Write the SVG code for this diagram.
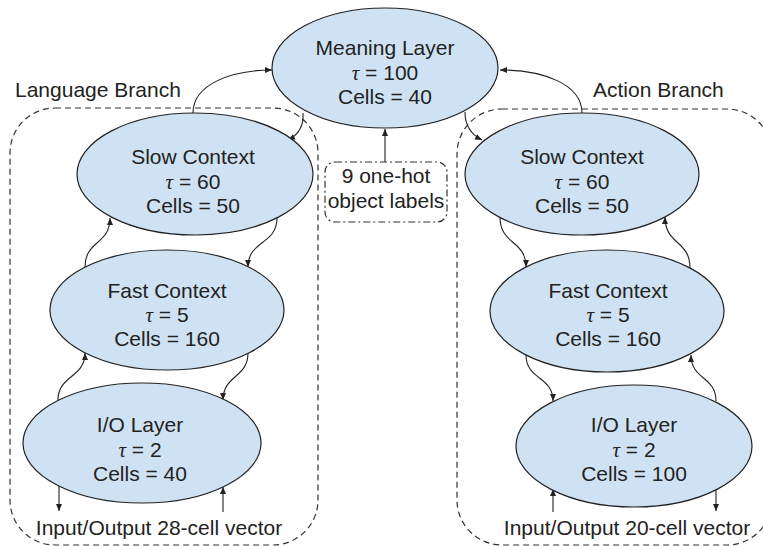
<svg xmlns="http://www.w3.org/2000/svg" width="763" height="546" viewBox="0 0 763 546">
<style>
.node{fill:#cfe2f3;stroke:#222;stroke-width:1.2}
.t{font-family:"Liberation Sans",Arial,sans-serif;font-size:21px;fill:#222;text-anchor:middle}
.lbl{font-family:"Liberation Sans",Arial,sans-serif;font-size:21px;fill:#222}
.tau{font-family:"Liberation Serif","Times New Roman",serif;font-style:italic}
.c{fill:none;stroke:#222;stroke-width:1.1}
.grp{fill:none;stroke:#333;stroke-width:1.2;stroke-dasharray:6 4}
.dd{fill:none;stroke:#333;stroke-width:1.2;stroke-dasharray:7 3 2 3}
</style>
<defs>
<marker id="ah" markerUnits="userSpaceOnUse" markerWidth="10" markerHeight="10" refX="7" refY="3" orient="auto">
<path d="M0,0 L7,3 L0,6 z" fill="#222"/>
</marker>
</defs>
<rect width="763" height="546" fill="#fff"/>

<g id="language-branch">
<rect class="grp" x="10" y="108" width="308" height="437" rx="45" ry="45"/>
<text class="lbl" x="15" y="97">Language Branch</text>
</g>
<g id="action-branch">
<rect class="grp" x="457" y="109" width="315" height="436" rx="45" ry="45"/>
<text class="lbl" x="593" y="97">Action Branch</text>
</g>

<g id="connectors">
<path class="c" d="M193,113 C193,84 232,70 272,70" marker-end="url(#ah)"/>
<path class="c" d="M303,113 C304,127 298,135 288,140" marker-end="url(#ah)"/>
<path class="c" d="M582,113 C582,84 543,70 500,70" marker-end="url(#ah)"/>
<path class="c" d="M465,112 C465,127 472,135 482,140" marker-end="url(#ah)"/>
<path class="c" d="M385,162 L385,129" marker-end="url(#ah)"/>
<path class="c" d="M85,267 C85,240 110,245 110,218" marker-end="url(#ah)"/>
<path class="c" d="M277,218 C277,245 248,240 248,267" marker-end="url(#ah)"/>
<path class="c" d="M58,400 C58,375 85,378 85,353" marker-end="url(#ah)"/>
<path class="c" d="M248,353 C248,378 223,375 223,400" marker-end="url(#ah)"/>
<path class="c" d="M59,486 L59,511" marker-end="url(#ah)"/>
<path class="c" d="M223,512 L223,487" marker-end="url(#ah)"/>
<path class="c" d="M500,217 C500,245 526,240 526,267" marker-end="url(#ah)"/>
<path class="c" d="M690,268 C690,240 665,245 665,217" marker-end="url(#ah)"/>
<path class="c" d="M526,355 C526,380 553,376 553,401" marker-end="url(#ah)"/>
<path class="c" d="M716,401 C716,376 691,380 691,355" marker-end="url(#ah)"/>
<path class="c" d="M553,512 L553,489" marker-end="url(#ah)"/>
<path class="c" d="M716,488 L716,511" marker-end="url(#ah)"/>
</g>

<g id="meaning-layer">
<ellipse class="node" cx="385" cy="68" rx="113" ry="60"/>
<text class="t" x="385" y="55">Meaning Layer</text>
<text class="t" x="385" y="80"><tspan class="tau">τ</tspan> = 100</text>
<text class="t" x="385" y="104">Cells = 40</text>
</g>

<g id="object-labels">
<rect class="dd" x="325" y="162" width="122" height="60" rx="10" ry="10"/>
<text class="t" x="386" y="183">9 one-hot</text>
<text class="t" x="386" y="208">object labels</text>
</g>

<g id="lang-slow-context">
<ellipse class="node" cx="195" cy="174" rx="118" ry="61"/>
<text class="t" x="193" y="164">Slow Context</text>
<text class="t" x="193" y="189"><tspan class="tau">τ</tspan> = 60</text>
<text class="t" x="193" y="213">Cells = 50</text>
</g>
<g id="lang-fast-context">
<ellipse class="node" cx="167" cy="310" rx="117" ry="60"/>
<text class="t" x="167" y="298">Fast Context</text>
<text class="t" x="167" y="322"><tspan class="tau">τ</tspan> = 5</text>
<text class="t" x="167" y="346">Cells = 160</text>
</g>
<g id="lang-io-layer">
<ellipse class="node" cx="142" cy="443" rx="119" ry="60"/>
<text class="t" x="140" y="432">I/O Layer</text>
<text class="t" x="140" y="457"><tspan class="tau">τ</tspan> = 2</text>
<text class="t" x="140" y="481">Cells = 40</text>
</g>
<g id="lang-io-vector">
<text class="t" x="159" y="535">Input/Output 28-cell vector</text>
</g>

<g id="act-slow-context">
<ellipse class="node" cx="582" cy="174" rx="117" ry="61"/>
<text class="t" x="582" y="164">Slow Context</text>
<text class="t" x="582" y="189"><tspan class="tau">τ</tspan> = 60</text>
<text class="t" x="582" y="213">Cells = 50</text>
</g>
<g id="act-fast-context">
<ellipse class="node" cx="607" cy="311" rx="117" ry="61"/>
<text class="t" x="608" y="298">Fast Context</text>
<text class="t" x="608" y="322"><tspan class="tau">τ</tspan> = 5</text>
<text class="t" x="608" y="346">Cells = 160</text>
</g>
<g id="act-io-layer">
<ellipse class="node" cx="634" cy="446" rx="118" ry="61"/>
<text class="t" x="634" y="432">I/O Layer</text>
<text class="t" x="634" y="457"><tspan class="tau">τ</tspan> = 2</text>
<text class="t" x="634" y="481">Cells = 100</text>
</g>
<g id="act-io-vector">
<text class="t" x="627" y="535">Input/Output 20-cell vector</text>
</g>
</svg>
